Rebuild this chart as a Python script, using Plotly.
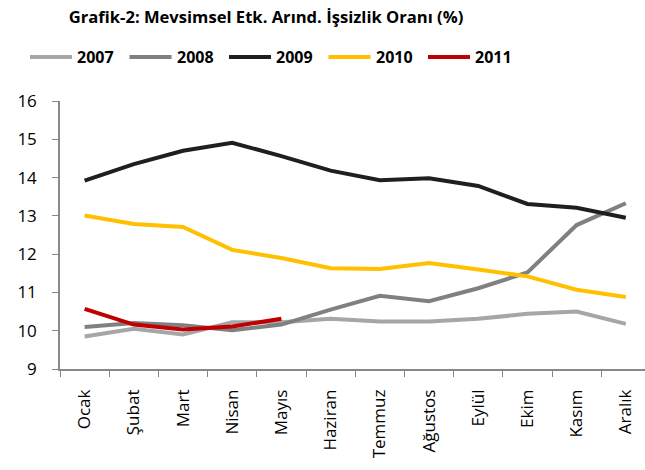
import plotly.graph_objects as go

months = ["Ocak", "Şubat", "Mart", "Nisan", "Mayıs", "Haziran", "Temmuz",
          "Ağustos", "Eylül", "Ekim", "Kasım", "Aralık"]
y2007 = [9.85, 10.05, 9.90, 10.22, 10.22, 10.31, 10.24, 10.24, 10.31, 10.44, 10.50, 10.18]
y2008 = [10.10, 10.20, 10.14, 10.01, 10.16, 10.55, 10.91, 10.77, 11.11, 11.52, 12.76, 13.33]
y2009 = [13.92, 14.35, 14.70, 14.91, 14.56, 14.18, 13.93, 13.98, 13.78, 13.31, 13.21, 12.95]
y2010 = [13.01, 12.79, 12.71, 12.11, 11.90, 11.63, 11.61, 11.77, 11.60, 11.42, 11.07, 10.88]
y2011 = [10.57, 10.16, 10.03, 10.11, 10.31]

series = [("2007", y2007, "#A6A6A6"), ("2008", y2008, "#808080"),
          ("2009", y2009, "#1F1F1F"), ("2010", y2010, "#FFC000"),
          ("2011", y2011, "#C00000")]

W, H = 645, 470
L, R, T, B = 60, 0, 101, 101
pw, ph = W - L - R, H - T - B

def px2paper_x(px):
    return (px - L) / pw

def px2paper_y(py):
    return (H - B - py) / ph

fig = go.Figure()
shapes, annotations = [], []
legend_y = px2paper_y(57)
for i, (name, vals, col) in enumerate(series):
    fig.add_trace(go.Scatter(x=months[:len(vals)], y=vals, name=name, mode="lines",
                             line=dict(color=col, width=4), showlegend=False,
                             hoverinfo="skip"))
    x0 = 30 + i * 99.5
    shapes.append(dict(type="line", xref="paper", yref="paper",
                       x0=px2paper_x(x0), x1=px2paper_x(x0 + 42),
                       y0=legend_y, y1=legend_y,
                       line=dict(color=col, width=4)))
    annotations.append(dict(text="<b>" + name + "</b>", xref="paper", yref="paper",
                            x=px2paper_x(x0 + 45), y=legend_y, xanchor="left",
                            yanchor="middle", showarrow=False,
                            font=dict(size=16, color="#000")))

fig.update_layout(
    width=W, height=H,
    margin=dict(l=L, r=R, t=T, b=B, autoexpand=False),
    paper_bgcolor="white", plot_bgcolor="white",
    font=dict(family="Open Sans, sans-serif", color="#000000"),
    title=dict(text="<b>Grafik-2: Mevsimsel Etk. Arınd. İşsizlik Oranı (%)</b>",
               xref="container", x=266 / W, xanchor="center",
               yref="container", y=1 - 17 / H, yanchor="middle",
               font=dict(size=16.6, color="#000")),
    shapes=shapes, annotations=annotations,
    showlegend=False,
    xaxis=dict(type="category", categoryarray=months, range=[-0.5, 11.39],
               showline=True, linecolor="#888888", linewidth=1.5,
               ticks="outside", ticklen=6, tickcolor="#888888", tickson="boundaries",
               tickangle=-90, tickfont=dict(size=17, color="#000"),
               ticklabelstandoff=12, automargin=False,
               showgrid=False, zeroline=False),
    yaxis=dict(range=[9, 16], dtick=1, showline=True, linecolor="#888888", linewidth=1.5,
               ticks="outside", ticklen=6, tickcolor="#888888",
               ticklabelstandoff=12, automargin=False,
               tickfont=dict(size=17, color="#000"), showgrid=False, zeroline=False),
)

fig.write_html("out.html", config={"displayModeBar": False},
               post_script="document.body.style.margin='0';")
